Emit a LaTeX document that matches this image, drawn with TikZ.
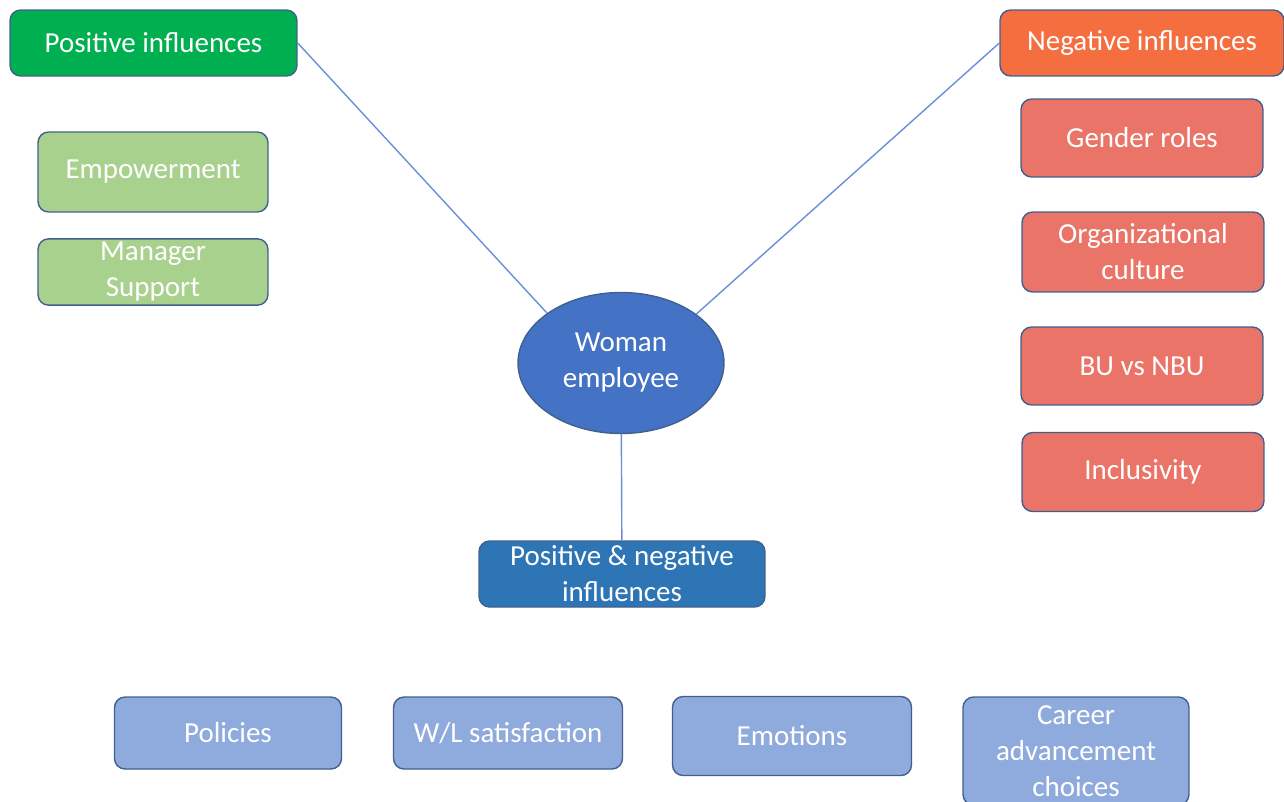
\documentclass[tikz,border=0pt]{standalone}
\usepackage{fontspec}
\setmainfont{Carlito}
\usepackage{xcolor}
\usepackage{tikz}
\usetikzlibrary{positioning, shapes.geometric}
\definecolor{posgreen}{HTML}{00B050}
\definecolor{lightgreen}{HTML}{A9D18E}
\definecolor{negorange}{HTML}{F46E40}
\definecolor{salmon}{HTML}{EA7468}
\definecolor{centerblue}{HTML}{4472C4}
\definecolor{midblue}{HTML}{2E75B6}
\definecolor{paleblue}{HTML}{8FAADC}
\definecolor{edgeblue}{HTML}{41608F}
\definecolor{linkblue}{HTML}{6A8FD6}

\begin{document}
\begin{tikzpicture}[x=0.02cm, y=-0.02cm,
    box/.style={draw=edgeblue, line width=0.8pt, rounded corners=6pt,
      text=white, align=center, inner sep=2pt,
      font=\fontsize{16.5}{20.5}\selectfont},
    link/.style={draw=linkblue, line width=0.8pt}]
    \useasboundingbox (0,0) rectangle (1284,801);
    % positive side
    \node[box, fill=posgreen, minimum width=5.74cm, minimum height=1.32cm] (pos) at (153.5,43) {Positive influences};
    \node[box, fill=lightgreen, minimum width=4.6cm, minimum height=1.6cm] (empower) at (153,172) {Empowerment};
    \node[box, fill=lightgreen, minimum width=4.6cm, minimum height=1.32cm] (manager) at (153,272) {Manager\\Support};
    % negative side
    \node[box, fill=negorange, minimum width=5.68cm, minimum height=1.32cm] (neg) at (1142,43) {Negative influences};
    \node[box, fill=salmon, minimum width=4.84cm, minimum height=1.56cm] (gender) at (1142,138) {Gender roles};
    \node[box, fill=salmon, minimum width=4.84cm, minimum height=1.6cm] (culture) at (1143,252) {Organizational\\culture};
    \node[box, fill=salmon, minimum width=4.84cm, minimum height=1.56cm] (bu) at (1142,366) {BU vs NBU};
    \node[box, fill=salmon, minimum width=4.84cm, minimum height=1.58cm] (inclus) at (1143,472) {Inclusivity};
    % centre
    \node[ellipse, draw=edgeblue, line width=0.8pt, fill=centerblue, text=white, align=center,
          minimum width=4.12cm, minimum height=2.82cm, inner sep=0pt,
          font=\fontsize{16.5}{20.5}\selectfont] (woman) at (621,363) {Woman\\employee};
    \node[box, fill=midblue, minimum width=5.72cm, minimum height=1.32cm] (both) at (622,574) {Positive \& negative\\influences};
    % bottom row
    \node[box, fill=paleblue, minimum width=4.54cm, minimum height=1.44cm] (policies) at (228,733) {Policies};
    \node[box, fill=paleblue, minimum width=4.58cm, minimum height=1.44cm] (wl) at (508,733) {W/L satisfaction};
    \node[box, fill=paleblue, minimum width=4.78cm, minimum height=1.58cm] (emotions) at (792,736) {Emotions};
    \node[box, fill=paleblue, minimum width=4.52cm, minimum height=2.16cm] (career) at (1076,751) {Career\\advancement\\choices};
    % links
    \draw[link] (pos.east) -- (woman.146);
    \draw[link] (neg.west) -- (woman.33);
    \draw[link] (woman) -- (both);
\end{tikzpicture}
\end{document}
